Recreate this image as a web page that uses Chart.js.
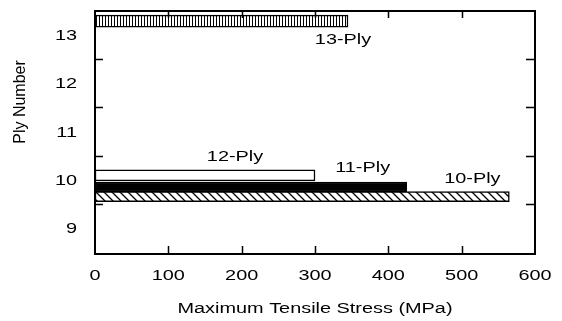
<!DOCTYPE html>
<html>
<head>
<meta charset="utf-8">
<script src="https://cdn.jsdelivr.net/npm/chart.js@4.4.0/dist/chart.umd.min.js"></script>
<style>
html, body { margin: 0; padding: 0; background: #fff; }
#wrap { width: 562px; height: 321px; }
</style>
</head>
<body>
<div id="wrap"><canvas id="myChart"></canvas></div>
<script>
const plyNames = ['13-Ply', '12-Ply', '11-Ply', '10-Ply'];
const plyPositions = [13.29, 10.09, 9.85, 9.65];
const maxStress = [345, 300, 425, 565];
const xTicks = [0, 100, 200, 300, 400, 500, 600];
const yTicks = [9, 10, 11, 12, 13];
const yMinorTicks = [9.5, 10.5, 11.5, 12.5];

const FONT = '14px "Liberation Sans", Arial, Helvetica, sans-serif';
const STRETCH = 1.42; // the scanned figure is wider than tall

function makePattern(kind){
    const c = document.createElement('canvas');
    const g = c.getContext('2d');
    if (kind === 'vert') {
        c.width = 3; c.height = 4;
        g.fillStyle = '#fff'; g.fillRect(0, 0, 3, 4);
        g.fillStyle = '#000'; g.fillRect(0, 0, 1, 4);
    } else {
        c.width = 8; c.height = 8;
        g.fillStyle = '#fff'; g.fillRect(0, 0, 8, 8);
        g.strokeStyle = '#000'; g.lineWidth = 1.3;
        g.beginPath();
        g.moveTo(-1, -1); g.lineTo(9, 9);
        g.moveTo(-1, 7); g.lineTo(1, 9);
        g.moveTo(7, -1); g.lineTo(9, 1);
        g.stroke();
    }
    return g.createPattern(c, 'repeat');
}

const fills = [makePattern('vert'), '#fff', '#000', makePattern('diag')];
const thickness = [12, 11, 10, 10];
// label offset from bar end / bar centre, in px
const labelOffsets = [[-5, 23], [-80, -14], [-44, -15], [-37, -14]];

function stretchedText(ctx, text, x, y, align){
    ctx.save();
    ctx.translate(x, y);
    ctx.scale(STRETCH, 1);
    ctx.font = FONT;
    ctx.fillStyle = '#000';
    ctx.textAlign = align;
    ctx.textBaseline = 'alphabetic';
    ctx.fillText(text, 0, 0);
    ctx.restore();
}

const framePlugin = {
    id: 'frame',
    afterDatasetsDraw(chart){
        const ctx = chart.ctx;
        const a = chart.chartArea;
        const xs = chart.scales.x, ys = chart.scales.y;

        // bar labels
        chart.data.datasets.forEach((ds, i) => {
            const bar = chart.getDatasetMeta(i).data[0];
            stretchedText(ctx, plyNames[i], bar.x + labelOffsets[i][0], bar.y + labelOffsets[i][1], 'center');
        });

        ctx.save();
        ctx.strokeStyle = '#000';
        ctx.lineWidth = 2;
        ctx.strokeRect(a.left, a.top, a.right - a.left, a.bottom - a.top);
        ctx.lineWidth = 1.5;
        ctx.beginPath();
        xTicks.slice(1, -1).forEach(v => {
            const px = Math.round(xs.getPixelForValue(v)) + 0.5;
            ctx.moveTo(px, a.bottom); ctx.lineTo(px, a.bottom - 8);
            ctx.moveTo(px, a.top); ctx.lineTo(px, a.top + 7);
        });
        yMinorTicks.forEach(v => {
            const py = Math.round(ys.getPixelForValue(v)) + 0.5;
            ctx.moveTo(a.left, py); ctx.lineTo(a.left + 8, py);
            ctx.moveTo(a.right, py); ctx.lineTo(a.right - 9, py);
        });
        ctx.stroke();
        ctx.restore();

        // tick labels
        xTicks.forEach(v => {
            stretchedText(ctx, String(v), xs.getPixelForValue(v), a.bottom + 26, 'center');
        });
        yTicks.forEach(v => {
            stretchedText(ctx, String(v), a.left - 18, ys.getPixelForValue(v) + 5, 'right');
        });

        // axis titles
        stretchedText(ctx, 'Maximum Tensile Stress (MPa)', (a.left + a.right) / 2, a.bottom + 59, 'center');
        ctx.save();
        ctx.translate(21, 102);
        ctx.rotate(-Math.PI / 2);
        ctx.font = '16px "Liberation Sans", Arial, Helvetica, sans-serif';
        ctx.fillStyle = '#000';
        ctx.textAlign = 'center';
        ctx.textBaseline = 'middle';
        ctx.fillText('Ply Number', 0, 0);
        ctx.restore();
    }
};

const ctx = document.getElementById('myChart');

new Chart(ctx, {
    type: 'bar',
    data: {
        datasets: plyNames.map((name, i) => ({
            label: name,
            data: [{ x: maxStress[i], y: plyPositions[i] }],
            backgroundColor: fills[i],
            borderColor: '#000',
            borderWidth: 1.5,
            borderSkipped: false,
            barThickness: thickness[i],
            grouped: false,
        }))
    },
    options: {
        indexAxis: 'y',
        responsive: true,
        maintainAspectRatio: false,
        animation: false,
        layout: { padding: { left: 95, right: 27, top: 11, bottom: 67 } },
        scales: {
            x: { type: 'linear', min: 0, max: 600, offset: false, display: false },
            y: { type: 'linear', min: 8.46, max: 13.5, offset: false, display: false },
        },
        plugins: {
            tooltip: { enabled: false },
            legend: { display: false },
        }
    },
    plugins: [framePlugin]
});
</script>
</body>
</html>
